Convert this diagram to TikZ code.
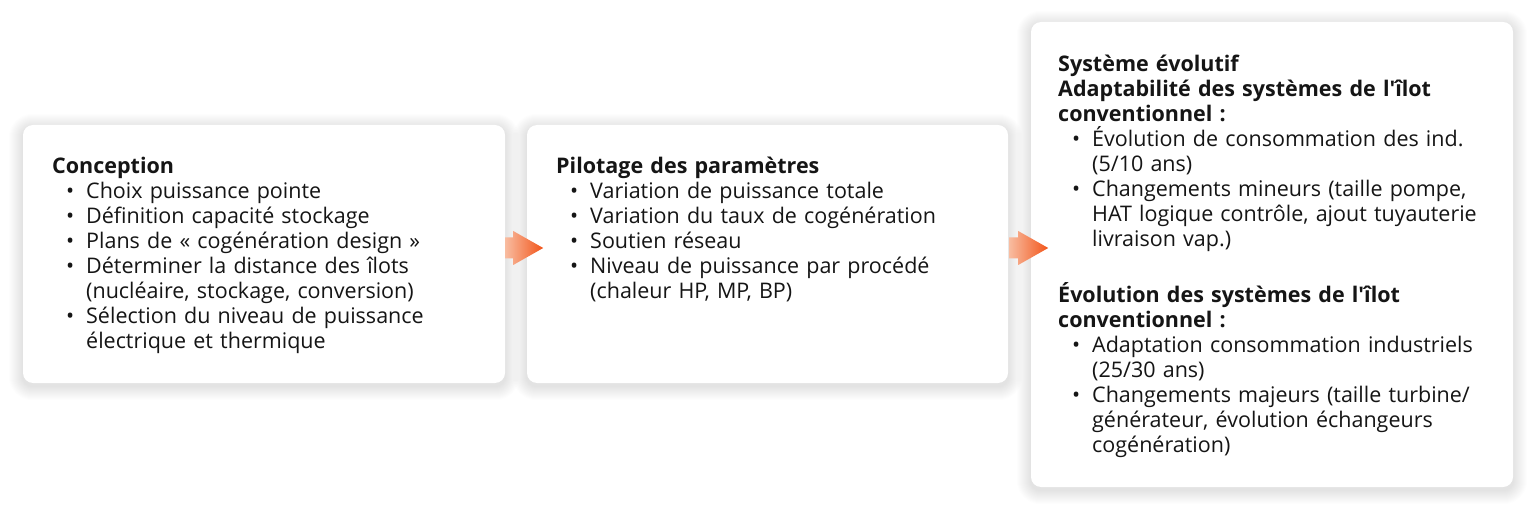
\documentclass[tikz,border=0pt]{standalone}
\usepackage{fontspec}
\setmainfont{Open Sans}
\newfontfamily\plainos{Open Sans}
\newcommand{\sq}{{\plainos '}}
\usetikzlibrary{calc,backgrounds}
\definecolor{txt}{HTML}{151515}
\definecolor{arlight}{HTML}{F8BCA0}
\definecolor{ardark}{HTML}{F2551A}
\newcommand{\bitem}[1]{\par\leftskip=34pt\noindent\llap{\makebox[20pt][l]{•}}#1}
\newcommand{\btitle}[1]{\par\leftskip=0pt\noindent\textbf{#1}}
\newcommand{\softshadow}[1]{%
  \foreach \i in {1,...,14}{%
    \fill[black, opacity=0.0075, rounded corners={10pt+\i pt}]
      ($(#1.south west)+(-\i,\i+3)$) rectangle ($(#1.north east)+(\i,-\i+3)$);
  }}
\tikzset{
  card/.style={draw=none, fill=white, rounded corners=10pt, inner sep=0pt},
  cardtext/.style={anchor=north west, inner sep=0pt, text width=460pt, text=txt,
    font=\fontsize{21.5}{25}\selectfont},
  arrowshade/.style={left color=arlight, right color=ardark}
}
\begin{document}
\begin{tikzpicture}[x=1pt,y=-1pt]
\useasboundingbox (0,0) rectangle (1536,510);
% cards
\node[card, minimum width=482pt, minimum height=258pt] (b1) at (264,254) {};
\node[card, minimum width=481pt, minimum height=258pt] (b2) at (767.5,254) {};
\node[card, minimum width=482pt, minimum height=465pt] (b3) at (1272,254.5) {};
\begin{scope}[on background layer]
  \fill[white] (0,0) rectangle (1536,510);
  \softshadow{b1}
  \softshadow{b2}
  \softshadow{b3}
\end{scope}
% texts
\node[cardtext] (t1) at (52,148) {\lineskiplimit=-20pt\raggedright
  \btitle{\rule{0pt}{22pt}Conception}
  \bitem{Choix puissance pointe}
  \bitem{Définition capacité stockage}
  \bitem{Plans de «~cogénération design~»}
  \bitem{Déterminer la distance des îlots\\(nucléaire, stockage, conversion)}
  \bitem{Sélection du niveau de puissance\\électrique et thermique}\par};
\node[cardtext] (t2) at (556,148) {\lineskiplimit=-20pt\raggedright
  \btitle{\rule{0pt}{22pt}Pilotage des paramètres}
  \bitem{Variation de puissance totale}
  \bitem{Variation du taux de cogénération}
  \bitem{Soutien réseau}
  \bitem{Niveau de puissance par procédé\\(chaleur HP, MP, BP)}\par};
\node[cardtext] (t3) at (1058,46) {\lineskiplimit=-20pt\raggedright
  \btitle{\rule{0pt}{22pt}Système évolutif\\Adaptabilité des systèmes de l\sq îlot\\conventionnel :}
  \bitem{Évolution de consommation des ind.\\(5/10 ans)}
  \bitem{Changements mineurs (taille pompe,\\HAT logique contrôle, ajout tuyauterie\\livraison vap.)}
  \par\vspace{31pt}
  \btitle{Évolution des systèmes de l\sq îlot\\conventionnel :}
  \bitem{Adaptation consommation industriels\\(25/30 ans)}
  \bitem{Changements majeurs (taille turbine/\\générateur, évolution échangeurs\\cogénération)}\par};
% arrows
\path (b1.east) ++(0,-6) coordinate (a1);
\path (b2.east) ++(1,-6) coordinate (a2);
\shade[arrowshade] ([shift={(0,-10.5)}]a1) -- ++(8,0) -- ++(0,-6.5) -- ++(30,17)
  -- ++(-30,17) -- ++(0,-6.5) -- ++(-8,0) -- cycle;
\shade[arrowshade] ([shift={(0,-10.5)}]a2) -- ++(9,0) -- ++(0,-6.5) -- ++(30,17)
  -- ++(-30,17) -- ++(0,-6.5) -- ++(-9,0) -- cycle;
\end{tikzpicture}
\end{document}
